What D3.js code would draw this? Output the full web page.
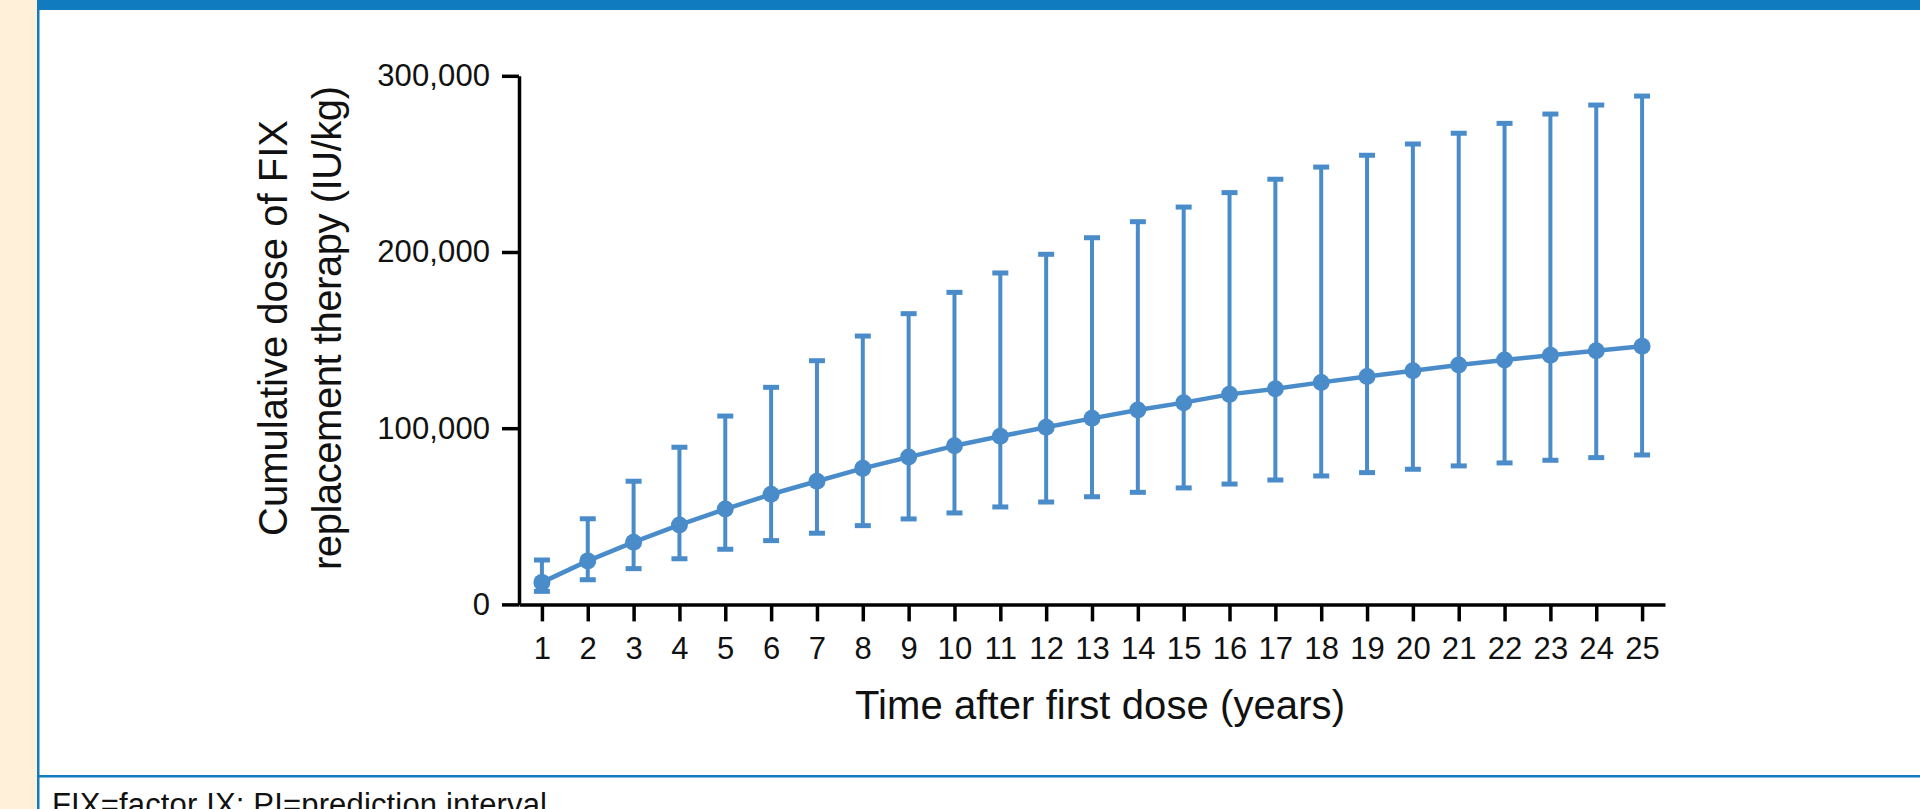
<!DOCTYPE html>
<html>
<head>
<meta charset="utf-8">
<script src="https://cdn.jsdelivr.net/npm/d3@7"></script>
<style>
  html, body { margin: 0; padding: 0; background: #fff; overflow: hidden; }
  svg { display: block; }
</style>
</head>
<body>
<svg id="chart" width="1920" height="809"></svg>
<script>
// ---- data ----
const years = [1,2,3,4,5,6,7,8,9,10,11,12,13,14,15,16,17,18,19,20,21,22,23,24,25];
const medianDose = [12500, 24700, 35300, 45100, 54100, 62500, 69900, 77200, 83600, 90000,
                    95400, 100500, 105600, 110300, 114500, 119200, 122400, 126000, 129400, 132600,
                    135900, 138700, 141400, 144000, 146500];
const upperPI = [25200, 48600, 69900, 89200, 106900, 123200, 138300, 152300, 165000, 177100,
                 188100, 198700, 208100, 217200, 225500, 233700, 241300, 248200, 254900, 261300,
                 267400, 273000, 278300, 283400, 288500];
const lowerPI = [7400, 14000, 20300, 25900, 31300, 36200, 40400, 44700, 48500, 51900,
                 55300, 58100, 61100, 63600, 66100, 68300, 70600, 72900, 74800, 76700,
                 78600, 80300, 81800, 83300, 84800];
const yTickValues = [0, 100000, 200000, 300000];
const xTitle = "Time after first dose (years)";
const yTitleLines = ["Cumulative dose of FIX", "replacement therapy (IU/kg)"];
const footnote = "FIX=factor IX; PI=prediction interval";

const rows = years.map((y, i) => ({ year: y, mid: medianDose[i], lo: lowerPI[i], hi: upperPI[i] }));

// ---- font selection: a condensed face if installed ----
function hasFont(name) {
  const c = document.createElement("canvas").getContext("2d");
  const s = "abcdefghijklmnopqrstuvwxyz0123456789,()";
  c.font = "40px monospace";
  const w1 = c.measureText(s).width;
  c.font = `40px "${name}", monospace`;
  const w2 = c.measureText(s).width;
  return Math.abs(w1 - w2) > 0.5;
}
const narrow = hasFont("Liberation Sans Narrow");
const family = narrow ? '"Liberation Sans Narrow", "Liberation Sans", Arial, sans-serif'
                      : '"Liberation Sans", Arial, sans-serif';
const tickFS = narrow ? 35 : 31;
const titleFS = narrow ? 44 : 40;
const footFS = narrow ? 34 : 31;

const svg = d3.select("#chart").style("font-family", family);
const blue = "#4a8cca";

// ---- frame ----
svg.append("rect").attr("x", 0).attr("y", 0).attr("width", 1920).attr("height", 809).attr("fill", "#ffffff");
svg.append("rect").attr("x", 0).attr("y", 0).attr("width", 37).attr("height", 809).attr("fill", "#fef0d9");
svg.append("rect").attr("x", 37).attr("y", 0).attr("width", 1883).attr("height", 10).attr("fill", "#117bc0");
svg.append("rect").attr("x", 37).attr("y", 10).attr("width", 2.5).attr("height", 799).attr("fill", "#117bc0");
svg.append("rect").attr("x", 37).attr("y", 775).attr("width", 1883).attr("height", 2.5).attr("fill", "#117bc0");

// ---- scales ----
const x = d3.scaleLinear().domain([0.5, 25.5]).range([519, 1665]);
const y = d3.scaleLinear().domain([0, 300000]).range([604.4, 75.8]);

// ---- axes ----
const xAxis = d3.axisBottom(x).tickValues(years).tickFormat(d3.format("d"))
  .tickSize(17).tickSizeOuter(0).tickPadding(16);
const yAxis = d3.axisLeft(y).tickValues(yTickValues).tickFormat(d3.format(","))
  .tickSize(17).tickSizeOuter(0).tickPadding(12);

const gx = svg.append("g").attr("transform", `translate(0,${y(0)})`).call(xAxis);
const gy = svg.append("g").attr("transform", `translate(${x(0.5)},0)`).call(yAxis);

[gx, gy].forEach(g => {
  g.attr("font-family", null).attr("font-size", null);
  g.select(".domain").attr("stroke", "#000").attr("stroke-width", 3.5);
  g.selectAll(".tick line").attr("stroke", "#000").attr("stroke-width", 3.5);
  g.selectAll(".tick text").attr("fill", "#111").style("font-size", tickFS + "px")
    .style("font-family", family);
});

// match the reference label width ("300,000" ≈ 113px)
const topLabel = gy.selectAll(".tick text").filter(d => d === 300000).node();
const natural = topLabel.getComputedTextLength();
const ls = (113 - natural) / 7;
gx.selectAll(".tick text").style("letter-spacing", ls + "px");
gy.selectAll(".tick text").style("letter-spacing", ls + "px").attr("x", -29 + ls);

// ---- error bars ----
const capW = 16;
const eb = svg.append("g").attr("class", "errorbars");
eb.selectAll("line.stem").data(rows).join("line").attr("class", "stem")
  .attr("x1", d => x(d.year)).attr("x2", d => x(d.year))
  .attr("y1", d => y(d.lo)).attr("y2", d => y(d.hi))
  .attr("stroke", blue).attr("stroke-width", 4);
eb.selectAll("line.capTop").data(rows).join("line").attr("class", "capTop")
  .attr("x1", d => x(d.year) - capW / 2).attr("x2", d => x(d.year) + capW / 2)
  .attr("y1", d => y(d.hi)).attr("y2", d => y(d.hi))
  .attr("stroke", blue).attr("stroke-width", 5);
eb.selectAll("line.capBot").data(rows).join("line").attr("class", "capBot")
  .attr("x1", d => x(d.year) - capW / 2).attr("x2", d => x(d.year) + capW / 2)
  .attr("y1", d => y(d.lo)).attr("y2", d => y(d.lo))
  .attr("stroke", blue).attr("stroke-width", 5);

// ---- median line and points ----
const line = d3.line().x(d => x(d.year)).y(d => y(d.mid));
svg.append("path").datum(rows).attr("d", line)
  .attr("fill", "none").attr("stroke", blue).attr("stroke-width", 4.5).attr("stroke-linejoin", "round");
svg.append("g").selectAll("circle").data(rows).join("circle")
  .attr("cx", d => x(d.year)).attr("cy", d => y(d.mid)).attr("r", 8.5).attr("fill", blue);

// ---- titles ----
svg.append("text").attr("x", 1100).attr("y", 719)
  .attr("text-anchor", "middle").attr("fill", "#111").style("font-size", titleFS + "px")
  .attr("textLength", 490).attr("lengthAdjust", "spacing").text(xTitle);

const yt = svg.append("g").attr("transform", "translate(0,328) rotate(-90)");
const yTitleLens = [416, 484];
yTitleLines.forEach((t, i) => {
  yt.append("text").attr("x", 0).attr("y", i === 0 ? 287 : 341)
    .attr("text-anchor", "middle").attr("fill", "#111").style("font-size", titleFS + "px")
    .attr("textLength", yTitleLens[i]).attr("lengthAdjust", "spacing").text(t);
});

// ---- footnote ----
svg.append("text").attr("x", 52).attr("y", narrow ? 818 : 815).attr("fill", "#111")
  .style("font-size", footFS + "px")
  .attr("textLength", 495).attr("lengthAdjust", "spacing").text(footnote);
</script>
</body>
</html>
